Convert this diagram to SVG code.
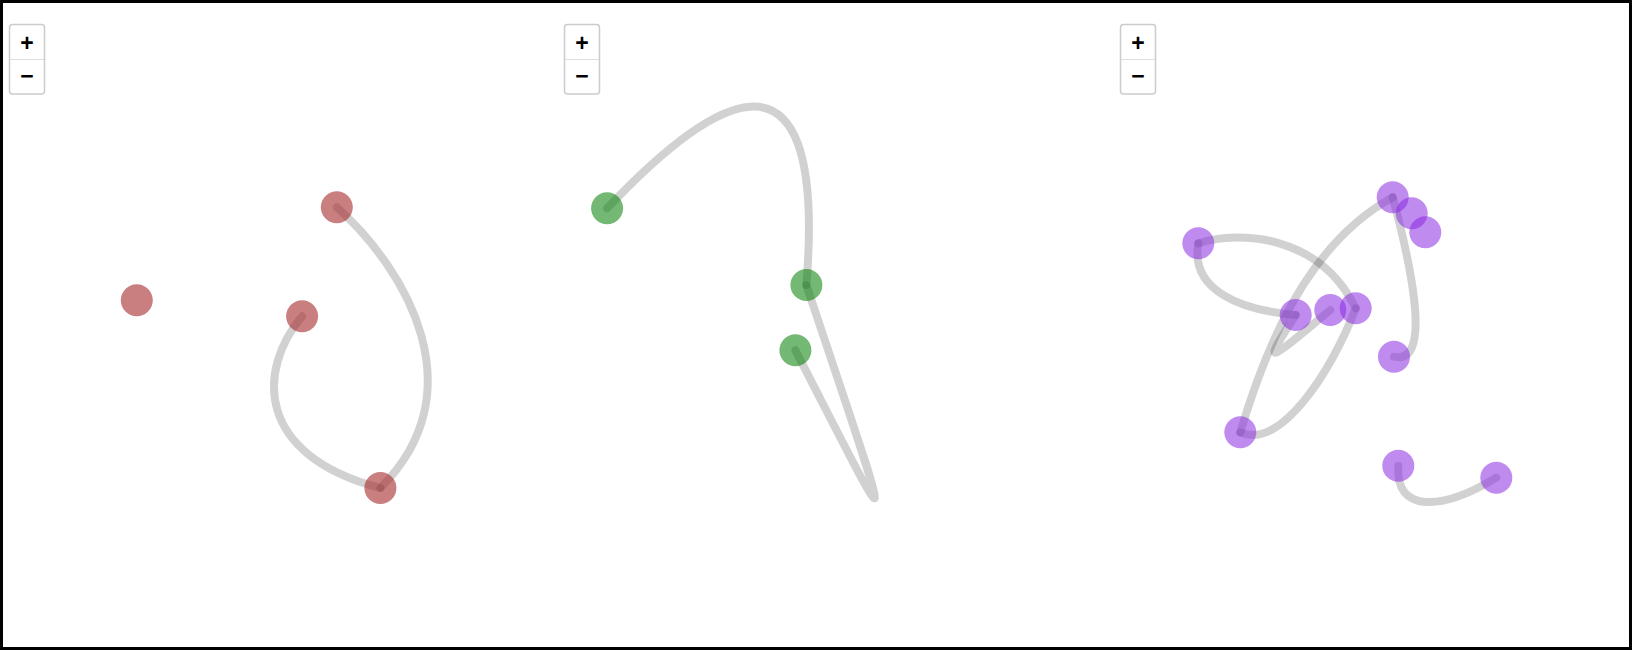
<svg xmlns="http://www.w3.org/2000/svg" width="1632" height="650" viewBox="0 0 1632 650">
<style>
.frame{fill:#fff;stroke:#000;stroke-width:3}
.btn rect{fill:#fff;stroke:#ccc;stroke-width:1.5}
.btn line{stroke:#ddd;stroke-width:1}
.btn text{font-family:"Liberation Sans",Arial,sans-serif;font-size:23px;font-weight:bold;fill:#000;text-anchor:middle}
.link{fill:none;stroke:#000;stroke-opacity:0.18;stroke-width:8;stroke-linecap:round}
.red{fill:#a52a2a;fill-opacity:0.6}
.green{fill:#008000;fill-opacity:0.55}
.purple{fill:#8a2be2;fill-opacity:0.55}
</style>
<rect class="frame" x="1.5" y="1.5" width="1629" height="647"/>

<g id="zoom1" class="btn">
<rect x="9.5" y="24.5" width="35" height="69.5" rx="3"/>
<line x1="10" y1="59.5" x2="44" y2="59.5"/>
<text x="27" y="51">+</text>
<text x="27" y="84">−</text>
</g>
<g id="zoom2" class="btn">
<rect x="564.5" y="24.5" width="35" height="69.5" rx="3"/>
<line x1="565" y1="59.5" x2="599" y2="59.5"/>
<text x="582" y="51">+</text>
<text x="582" y="84">−</text>
</g>
<g id="zoom3" class="btn">
<rect x="1120.5" y="24.5" width="35" height="69.5" rx="3"/>
<line x1="1121" y1="59.5" x2="1155" y2="59.5"/>
<text x="1138" y="51">+</text>
<text x="1138" y="84">−</text>
</g>

<g id="connectors">
<path class="link" d="M336.8,207.3 C407,270 477,392 380.4,488"/>
<path class="link" d="M302.1,316.3 C257,370 255,455 380.4,488"/>
<path class="link" d="M607.1,208.3 C700,110 828.6,10 806.4,285"/>
<path class="link" d="M806.4,285 C898,560 901,555 795.4,350.3"/>
<path class="link" d="M1198.3,243.3 C1190,290 1240,310 1295.7,315"/>
<path class="link" d="M1198.3,243.3 C1240,230 1320,235 1355.7,308.3"/>
<path class="link" d="M1392.7,197.3 C1323,236 1276,312 1240.3,432.3"/>
<path class="link" d="M1240.3,432.3 C1280,450 1331,373 1355.7,308.3"/>
<path class="link" d="M1295.7,315 C1260,370 1268,362 1330.3,310"/>
<path class="link" d="M1392.7,197.3 C1415,280 1430,365 1394,356.7"/>
<path class="link" d="M1398.3,465.7 C1395,512 1440,512 1496.3,477.7"/>
</g>

<g id="r1"><circle class="red" cx="336.8" cy="207.3" r="16"/></g>
<g id="r2"><circle class="red" cx="136.8" cy="300.3" r="16"/></g>
<g id="r3"><circle class="red" cx="302.1" cy="316.3" r="16"/></g>
<g id="r4"><circle class="red" cx="380.4" cy="488" r="16"/></g>

<g id="g1"><circle class="green" cx="607.1" cy="208.3" r="16"/></g>
<g id="g2"><circle class="green" cx="806.4" cy="285" r="16"/></g>
<g id="g3"><circle class="green" cx="795.4" cy="350.3" r="16"/></g>

<g id="p1"><circle class="purple" cx="1198.3" cy="243.3" r="16"/></g>
<g id="p2"><circle class="purple" cx="1392.7" cy="197.3" r="16"/></g>
<g id="p3"><circle class="purple" cx="1411.7" cy="213.3" r="16"/></g>
<g id="p4"><circle class="purple" cx="1425.3" cy="232.3" r="16"/></g>
<g id="p5"><circle class="purple" cx="1295.7" cy="315" r="16"/></g>
<g id="p6"><circle class="purple" cx="1330.3" cy="310" r="16"/></g>
<g id="p7"><circle class="purple" cx="1355.7" cy="308.3" r="16"/></g>
<g id="p8"><circle class="purple" cx="1394" cy="356.7" r="16"/></g>
<g id="p9"><circle class="purple" cx="1240.3" cy="432.3" r="16"/></g>
<g id="p10"><circle class="purple" cx="1398.3" cy="465.7" r="16"/></g>
<g id="p11"><circle class="purple" cx="1496.3" cy="477.7" r="16"/></g>
</svg>
